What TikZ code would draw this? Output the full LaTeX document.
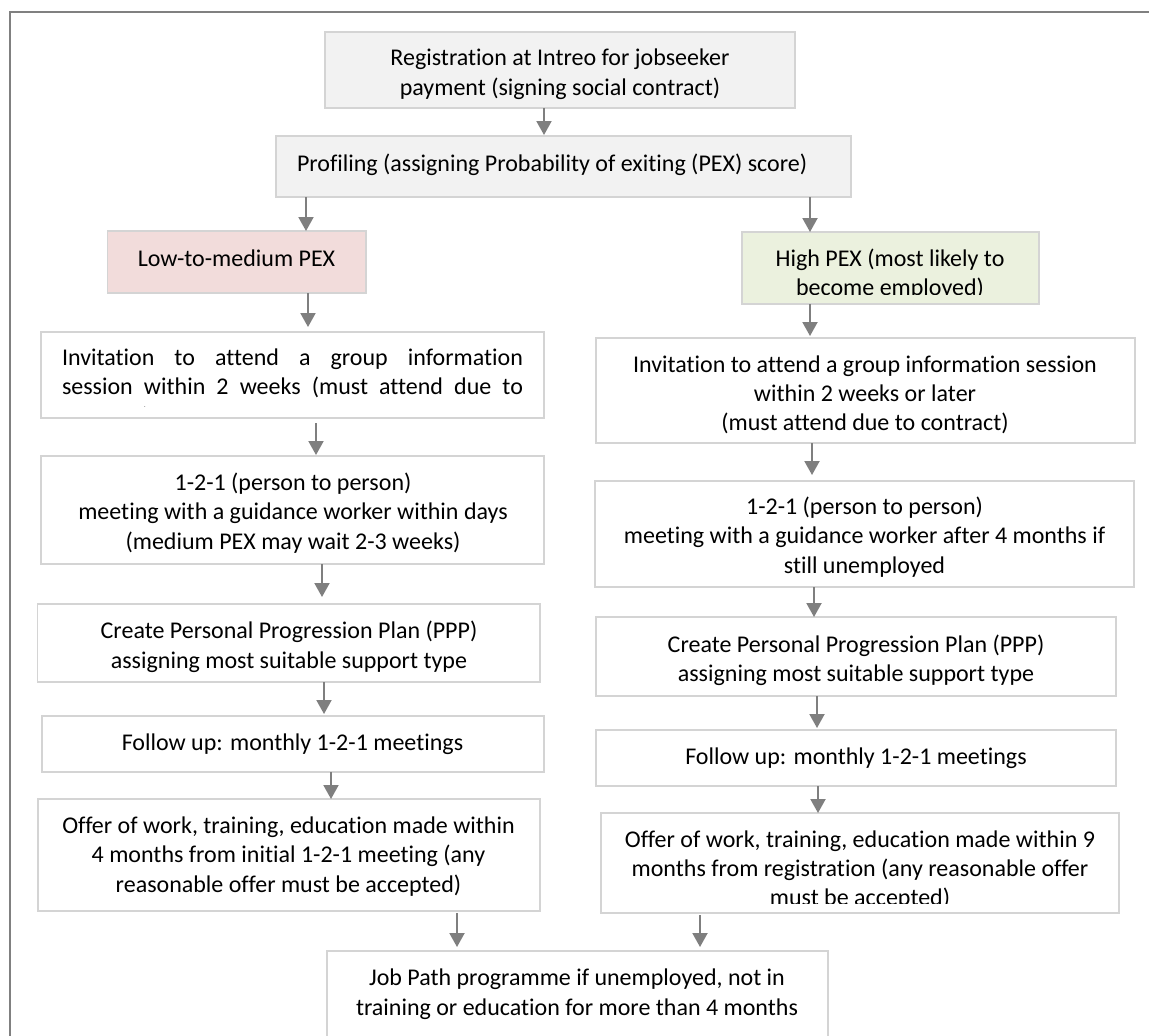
\documentclass[tikz,border=0pt]{standalone}
\usepackage{fontspec}
\setmainfont{Carlito}[Ligatures=NoCommon]
\usetikzlibrary{arrows.meta}
\definecolor{boxline}{HTML}{D4D4D4}
\definecolor{greyfill}{HTML}{F2F2F2}
\definecolor{pinkfill}{HTML}{F2DCDB}
\definecolor{greenfill}{HTML}{EBF1DE}
\definecolor{arrowgrey}{HTML}{7F7F7F}
\definecolor{framegrey}{HTML}{808080}
\newcommand{\fs}{\fontsize{24pt}{29.3pt}\selectfont}
\tolerance=10000
\hyphenpenalty=10000
\tikzset{
  box/.style={draw=boxline, line width=1.5pt, inner sep=0pt, outer sep=0pt},
  txt/.style={inner sep=0pt, outer sep=0pt, align=center, font=\fs, text=black},
  arr/.style={draw=arrowgrey, line width=2pt, -{Triangle[length=14pt,width=15pt]}},
}
\begin{document}
\begin{tikzpicture}[x=1pt,y=-1pt]
\useasboundingbox (0,0) rectangle (1149,1036);
\clip (0,0) rectangle (1149,1036);
\fill[white] (0,0) rectangle (1149,1036);
% outer frame
\draw[framegrey, line width=2pt] (10,1100) -- (10,12) -- (1200,12);

% boxes
\node[box, fill=greyfill,  minimum width=470pt,   minimum height=76pt]  (reg)  at (560,70) {};
\node[box, fill=greyfill,  minimum width=575pt,   minimum height=61pt]  (prof) at (563.5,166.5) {};
\node[box, fill=pinkfill,  minimum width=258.5pt, minimum height=62pt]  (low)  at (236.75,262) {};
\node[box, fill=greenfill, minimum width=297pt,   minimum height=72pt]  (high) at (890.5,268) {};
\node[box, fill=white, minimum width=503pt,   minimum height=86pt]  (invL) at (292.5,375) {};
\node[box, fill=white, minimum width=539pt,   minimum height=105pt] (invR) at (865.5,390.5) {};
\node[box, fill=white, minimum width=503pt,   minimum height=108pt] (oneL) at (292.5,510) {};
\node[box, fill=white, minimum width=539pt,   minimum height=106pt] (oneR) at (864.5,534) {};
\node[box, fill=white, minimum width=502.5pt, minimum height=78pt]  (pppL) at (288.75,643) {};
\node[box, fill=white, minimum width=520pt,   minimum height=79pt]  (pppR) at (856,656.5) {};
\node[box, fill=white, minimum width=502pt,   minimum height=56pt]  (folL) at (293,744) {};
\node[box, fill=white, minimum width=520pt,   minimum height=56pt]  (folR) at (856,758) {};
\node[box, fill=white, minimum width=502pt,   minimum height=112pt] (offL) at (289,855) {};
\node[box, fill=white, minimum width=518pt,   minimum height=100pt] (offR) at (860,863) {};
\node[box, fill=white, minimum width=501pt,   minimum height=110pt] (job)  at (577.5,1006) {};

% texts
\node[txt] (regT) at (560,74.5) {\strut Registration at Intreo for jobseeker\\\strut payment (signing social contract)};
\node[txt, anchor=west] (profT) at (297,165.5) {\strut Profiling (assigning Probability of exiting (PEX) score)};
\node[txt] (lowT) at (236.5,260.5) {\strut Low-to-medium PEX};
\begin{scope}
  \clip (high.north west) rectangle ([yshift=10pt]high.south east);
  \node[txt] (highT) at (890,275) {\strut High PEX (most likely to\\\strut become employed)};
\end{scope}
\begin{scope}
  \clip (invL.north west) rectangle ([yshift=12pt]invL.south east);
  \node[inner sep=0pt, outer sep=0pt, font=\fs, text width=461pt, align=justify, anchor=north west] (invLT) at (62,345)
    {\strut Invitation to attend a group information\linebreak session within 2 weeks (must attend due to\linebreak contract)};
\end{scope}
\node[txt] (invRT) at (865,395.5) {\strut Invitation to attend a group information session\\\strut within 2 weeks or later\\\strut (must attend due to contract)};
\node[txt] (oneLT) at (293,514) {\strut 1-2-1 (person to person)\\\strut meeting with a guidance worker within days\\\strut (medium PEX may wait 2-3 weeks)};
\node[txt] (oneRT) at (864.5,538) {\strut 1-2-1 (person to person)\\\strut meeting with a guidance worker after 4 months if\\\strut still unemployed};
\node[txt] (pppLT) at (289,647.5) {\strut Create Personal Progression Plan (PPP)\\\strut assigning most suitable support type};
\node[txt] (pppRT) at (856,661) {\strut Create Personal Progression Plan (PPP)\\\strut assigning most suitable support type};
\node[txt] (folLT) at (292.5,744.5) {\strut Follow up: monthly 1-2-1 meetings};
\node[txt] (folRT) at (856,758.5) {\strut Follow up: monthly 1-2-1 meetings};
\node[txt] (offLT) at (288.5,857) {\strut Offer of work, training, education made within\\\strut 4 months from initial 1-2-1 meeting (any\\\strut reasonable offer must be accepted)};
\begin{scope}
  \clip (offR.north west) rectangle ([yshift=10pt]offR.south east);
  \node[txt] (offRT) at (860,870.5) {\strut Offer of work, training, education made within 9\\\strut months from registration (any reasonable offer\\\strut must be accepted)};
\end{scope}
\node[txt] (jobT) at (577,994.5) {\strut Job Path programme if unemployed, not in\\\strut training or education for more than 4 months};

% arrow x positions
\coordinate (x1) at (544,0);
\coordinate (x2) at (306,0);
\coordinate (x3) at (810,0);
\coordinate (x4) at (308,0);
\coordinate (x5) at (316,0);
\coordinate (x6) at (812,0);
\coordinate (x7) at (322,0);
\coordinate (x8) at (814,0);
\coordinate (x9) at (324,0);
\coordinate (x10) at (817,0);
\coordinate (x11) at (331,0);
\coordinate (x12) at (818,0);
\coordinate (x13) at (457,0);
\coordinate (x14) at (700,0);

% connectors
\draw[arr, shorten >=1pt] (reg.south -| x1) -- (prof.north -| x1);
\draw[arr] (prof.south -| x2) -- (low.north -| x2);
\draw[arr] (prof.south -| x3) -- (high.north -| x3);
\draw[arr, shorten >=5pt] (low.south -| x4) -- (invL.north -| x4);
\draw[arr, shorten >=2pt] (high.south -| x3) -- (invR.north -| x3);
\draw[arr, shorten <=5pt, shorten >=1pt] (invL.south -| x5) -- (oneL.north -| x5);
\draw[arr, shorten >=6pt] (invR.south -| x6) -- (oneR.north -| x6);
\draw[arr, shorten >=7pt] (oneL.south -| x7) -- (pppL.north -| x7);
\draw[arr] (oneR.south -| x8) -- (pppR.north -| x8);
\draw[arr, shorten >=2pt] (pppL.south -| x9) -- (folL.north -| x9);
\draw[arr, shorten >=2pt] (pppR.south -| x10) -- (folR.north -| x10);
\draw[arr] (folL.south -| x11) -- (offL.north -| x11);
\draw[arr] (folR.south -| x12) -- (offR.north -| x12);
\draw[arr, shorten <=2pt, shorten >=4pt] (offL.south -| x13) -- (job.north -| x13);
\draw[arr, shorten <=2pt, shorten >=4pt] (offR.south -| x14) -- (job.north -| x14);
\end{tikzpicture}
\end{document}
